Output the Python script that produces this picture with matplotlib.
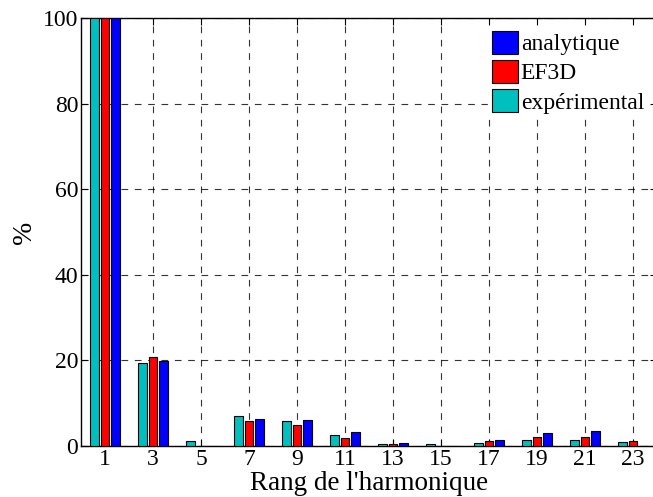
import numpy as np
import matplotlib
matplotlib.use("Agg")
import matplotlib.pyplot as plt

harmonics = [1, 3, 5, 7, 9, 11, 13, 15, 17, 19, 21, 23]
experimental = [100, 19.4, 1.2, 6.9, 5.8, 2.6, 0.5, 0.4, 0.7, 1.3, 1.5, 0.9]
ef3d = [100, 20.8, 0.0, 5.8, 4.9, 1.9, 0.5, 0.0, 1.2, 2.0, 2.0, 1.2]
analytique = [100, 19.9, 0.0, 6.4, 6.1, 3.2, 0.7, 0.0, 1.4, 3.0, 3.5, 0.0]
yticks = [0, 20, 40, 60, 80, 100]

plt.rcParams['font.family'] = ['Liberation Serif', 'DejaVu Serif']
fig = plt.figure(figsize=(6.53, 4.97), dpi=100)
ax = fig.add_axes([81/653, 1-446/497, 576/653, 428/497])

x = np.array(harmonics, dtype=float)
w = 0.35
off = 0.44
b_exp = ax.bar(x - off, experimental, w, color='#00bfbf', edgecolor='black', linewidth=0.8, zorder=3, label='expérimental')
b_ef = ax.bar(x, ef3d, w, color='#ff0000', edgecolor='black', linewidth=0.8, zorder=3, label='EF3D')
b_an = ax.bar(x + off, analytique, w, color='#0000ff', edgecolor='black', linewidth=0.8, zorder=3, label='analytique')

ax.set_xlim(0, 24)
ax.set_ylim(0, 100)
ax.set_xticks(harmonics)
ax.set_xticklabels([str(h) for h in harmonics])
ax.set_yticks(yticks)
ax.tick_params(direction='in', top=True, right=True, length=5, labelsize=17, width=0.8, pad=2)
ax.grid(True, linestyle=(0, (6, 6)), color='black', linewidth=0.8, alpha=0.8, zorder=1)
ax.set_axisbelow(True)
for s in ax.spines.values():
    s.set_linewidth(1.0)
ax.set_xlabel("Rang de l'harmonique", fontsize=19.5, labelpad=1)
ax.set_ylabel('%', fontsize=20, labelpad=4)

leg = ax.legend(handles=[b_an, b_ef, b_exp], loc='upper right', bbox_to_anchor=(1.0, 1.0),
                fontsize=17, frameon=True, fancybox=False, edgecolor='white', framealpha=1,
                handlelength=1.1, handleheight=1.1, handletextpad=0.1, labelspacing=0.2,
                borderpad=0.2, borderaxespad=0.35)
fig.savefig('out.png', dpi=100)
